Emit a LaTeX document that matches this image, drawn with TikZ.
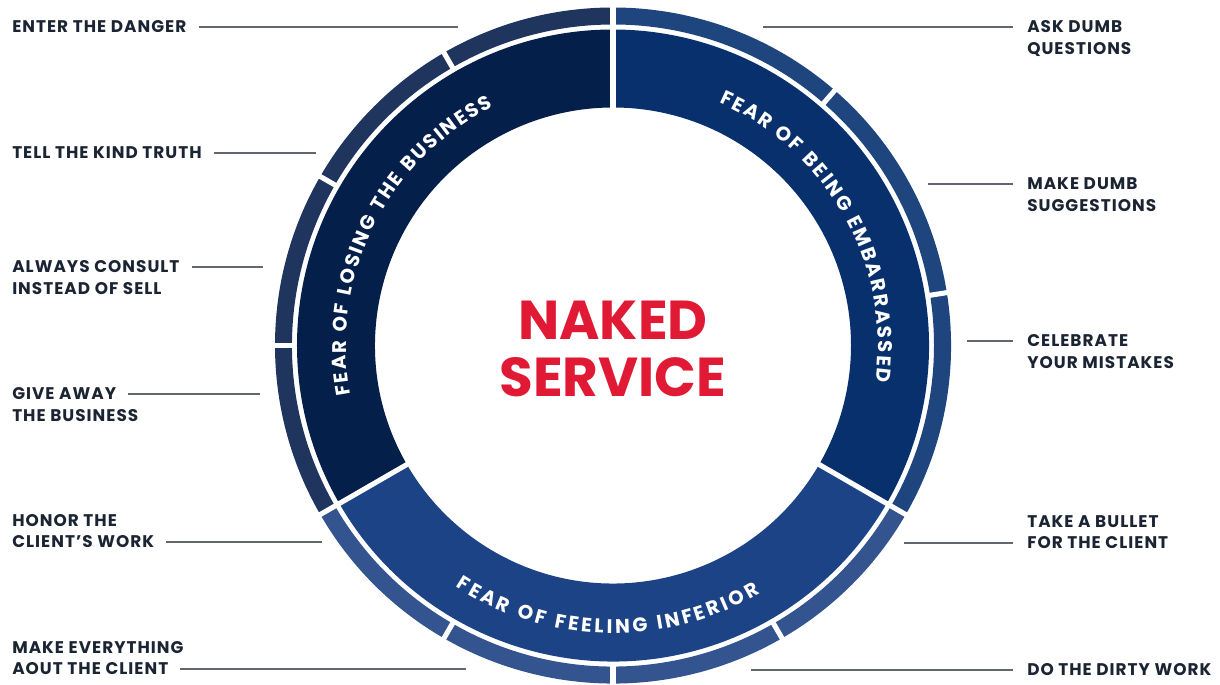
\documentclass[tikz,border=0pt]{standalone}
\usepackage{fontspec}
\usetikzlibrary{positioning,decorations.text}
\newfontfamily\lblfont{Poppins}
\newfontfamily\widefont{Poppins}[LetterSpace=6]
\definecolor{leftin}{HTML}{041F4A}
\definecolor{leftout}{HTML}{1F355E}
\definecolor{rightin}{HTML}{07306D}
\definecolor{rightout}{HTML}{1F457E}
\definecolor{botin}{HTML}{1D4387}
\definecolor{botout}{HTML}{33548F}
\definecolor{nakedred}{HTML}{E01A35}
\definecolor{lbltext}{HTML}{1B2432}
\definecolor{leadgray}{HTML}{62676F}
\newcommand{\ringtxt}{\lblfont\bfseries\fontsize{14}{16}\selectfont}
\newcommand{\ringseg}[5]{%
  \fill[#1] (#4:#3) arc[start angle=#4, end angle=#5, radius=#3]
    -- (#5:#2) arc[start angle=#5, end angle=#4, radius=#2] -- cycle;}
\tikzset{
  lbl/.style={font=\widefont\bfseries\fontsize{12}{14}\selectfont, text=lbltext,
    inner sep=0pt, text height=8.4pt, text depth=0pt},
  leader/.style={draw=leadgray, line width=0.8pt},
  gapline/.style={draw=white, line width=3.6pt},
  title/.style={font=\lblfont\bfseries\fontsize{39}{40}\selectfont, text=nakedred,
    align=center, inner sep=0pt},
  ringlabel/.style={decorate, decoration={text along path, text align={fit to path},
    text color=white, text={|\ringtxt|#1}}}
}
\begin{document}
\begin{tikzpicture}[x=0.025cm,y=0.025cm]
\useasboundingbox (-613,-338.5) rectangle (607,345.5);

\ringseg{leftin}{238}{316}{90}{210}
\ringseg{botin}{238}{316}{210}{330}
\ringseg{rightin}{238}{316}{-30}{90}
\ringseg{leftout}{321}{338}{90}{210}
\ringseg{botout}{321}{338}{210}{330}
\ringseg{rightout}{321}{338}{-30}{90}
\foreach \a in {90,210,330}
  \draw[gapline] (\a:230) -- (\a:318.5);
\foreach \a in {90,120,150,180,210,240,270,300,330,9,49}
  \draw[gapline] (\a:318.5) -- (\a:345);

\path[ringlabel={FEAR OF LOSING THE BUSINESS}]
  (190.6:267) arc[start angle=190.6, end angle=116.6, radius=267];
\path[ringlabel={FEAR OF BEING EMBARRASSED}]
  (66.4:265) arc[start angle=66.4, end angle=-7.9, radius=265];
\path[ringlabel={FEAR OF FEELING INFERIOR}]
  (236.9:288) arc[start angle=236.9, end angle=300.7, radius=288];

\node[title] (naked) at (0,-3.5) {NAKED\\SERVICE};

\node[lbl, anchor=west] (danger) at (-601,318.5) {ENTER THE DANGER};
\node[lbl, anchor=west] (truth) at (-601,192.5) {TELL THE KIND TRUTH};
\node[lbl, anchor=west] (consult) at (-601,78.5) {ALWAYS CONSULT};
\node[lbl, below right=6.5pt and 0pt of consult.south west] (consult2) {INSTEAD OF SELL};
\node[lbl, anchor=west] (giveaway) at (-601,-48.5) {GIVE AWAY};
\node[lbl, below right=6.5pt and 0pt of giveaway.south west] (giveaway2) {THE BUSINESS};
\node[lbl, anchor=west] (honor) at (-601,-196.5) {CLIENT’S WORK};
\node[lbl, above right=6.5pt and 0pt of honor.north west] (honor1) {HONOR THE};
\node[lbl, anchor=west] (everything) at (-601,-323.5) {AOUT THE CLIENT};
\node[lbl, above right=6.5pt and 0pt of everything.north west] (everything1) {MAKE EVERYTHING};

\node[lbl, anchor=west] (ask) at (414,318.5) {ASK DUMB};
\node[lbl, below right=6.5pt and 0pt of ask.south west] (ask2) {QUESTIONS};
\node[lbl, anchor=west] (suggest) at (414,161.5) {MAKE DUMB};
\node[lbl, below right=6.5pt and 0pt of suggest.south west] (suggest2) {SUGGESTIONS};
\node[lbl, anchor=west] (celebrate) at (414,4.5) {CELEBRATE};
\node[lbl, below right=6.5pt and 0pt of celebrate.south west] (celebrate2) {YOUR MISTAKES};
\node[lbl, anchor=west] (bullet) at (414,-197.5) {FOR THE CLIENT};
\node[lbl, above right=6.5pt and 0pt of bullet.north west] (bullet1) {TAKE A BULLET};
\node[lbl, anchor=west] (dirty) at (414,-324.5) {DO THE DIRTY WORK};

\coordinate (danger-end) at (-155,318.5);
\coordinate (truth-end) at (-297,192.5);
\coordinate (consult-end) at (-350,78.5);
\coordinate (giveaway-end) at (-353,-48.5);
\coordinate (honor-end) at (-291,-196.5);
\coordinate (everything-end) at (-147,-323.5);
\coordinate (ask-end) at (150,318.5);
\coordinate (suggest-end) at (315,161.5);
\coordinate (celebrate-end) at (354,4.5);
\coordinate (bullet-end) at (291,-197.5);
\coordinate (dirty-end) at (138,-324.5);

\foreach \n in {danger,truth,consult,giveaway,honor,everything}
  \draw[leader, shorten <=8.5pt] (\n) -- (\n-end);
\foreach \n in {ask,suggest,celebrate,bullet,dirty}
  \draw[leader, shorten >=10pt] (\n-end) -- (\n);
\end{tikzpicture}
\end{document}
